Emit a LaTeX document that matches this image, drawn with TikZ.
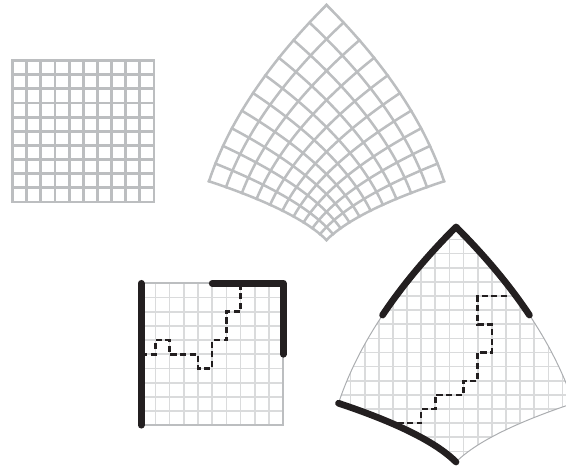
\documentclass[tikz,border=0pt]{standalone}
\definecolor{gridgray}{HTML}{BCBEC0}
\definecolor{finegray}{HTML}{DADBDC}
\definecolor{edgegray}{HTML}{ABADB0}
\definecolor{inkblack}{HTML}{231F20}
\newcommand{\warpX}[3]{#1+14.69*((#2)*(#2)-(#3)*(#3))}
\newcommand{\warpY}[3]{#1-14.69*(2*(#2)*(#3)-2)}
\tikzset{
  coarse/.style={draw=gridgray,line width=1.9pt,line cap=rect},
  flatcoarse/.style={draw=gridgray,line width=2.1pt,line cap=rect},
  fine/.style={draw=finegray,line width=1.25pt},
  rim/.style={draw=gridgray,line width=1.5pt,line cap=rect},
  thinrim/.style={draw=edgegray,line width=0.75pt},
  heavy/.style={draw=inkblack,line width=5pt,line cap=round,line join=round},
  route/.style={draw=inkblack,line width=1.9pt,dash pattern=on 4.6pt off 2.6pt},
  curve/.style={domain=1:3,samples=25,smooth,variable=\t}
}
\begin{document}
\begin{tikzpicture}[x=0.75pt,y=-0.75pt]
\useasboundingbox (0,0) rectangle (566,467);
\clip (0,0) rectangle (566,467);
% flat coarse grid
\foreach \k in {0,...,10}{
  \draw[flatcoarse] ({12.5+14.15*\k},60.5) -- ({12.5+14.15*\k},202);
  \draw[flatcoarse] (12.5,{60.5+14.15*\k}) -- (154,{60.5+14.15*\k});
}
% warped coarse grid
\foreach \k in {0,...,10}{
  \pgfmathsetmacro{\a}{1+0.2*\k}
  \draw[coarse] plot[curve] ({\warpX{326.5}{\a}{\t}},{\warpY{240}{\a}{\t}});
  \draw[coarse] plot[curve] ({\warpX{326.5}{\t}{\a}},{\warpY{240}{\t}{\a}});
}
% flat fine grid
\foreach \k in {1,...,9}{
  \draw[fine] ({141.2+14.2*\k},283.3) -- ({141.2+14.2*\k},425.2);
  \draw[fine] (141.2,{283.3+14.2*\k}) -- (283.2,{283.3+14.2*\k});
}
\draw[rim] (141.2,283.3) -- (283.2,283.3) -- (283.2,425.2) -- (141.2,425.2);
% warped outline filled with a straight fine grid
\begin{scope}
\clip plot[curve] ({\warpX{456}{1}{\t}},{\warpY{462}{1}{\t}})
  -- plot[curve] ({\warpX{456}{\t}{3}},{\warpY{462}{\t}{3}})
  -- plot[curve] ({\warpX{456}{3}{4-\t}},{\warpY{462}{3}{4-\t}})
  -- plot[curve] ({\warpX{456}{4-\t}{1}},{\warpY{462}{4-\t}{1}}) -- cycle;
\foreach \k in {-9,...,7}{
  \draw[fine] ({477.7+14.13*\k},220) -- ({477.7+14.13*\k},470);
}
\foreach \k in {-5,...,12}{
  \draw[fine] (330,{296+14.13*\k}) -- (580,{296+14.13*\k});
}
\end{scope}
\draw[thinrim] plot[curve] ({\warpX{456}{\t}{1}},{\warpY{462}{\t}{1}});
\draw[thinrim] plot[domain=1:2,samples=15,smooth,variable=\t] ({\warpX{456}{\t}{3}},{\warpY{462}{\t}{3}});
\draw[thinrim] plot[domain=1:2,samples=15,smooth,variable=\t] ({\warpX{456}{3}{\t}},{\warpY{462}{3}{\t}});
% routes
\draw[route] (141.2,354.3) -- (155.4,354.3) -- (155.4,340.1) -- (169.6,340.1) -- (169.6,354.3)
  -- (198,354.3) -- (198,368.5) -- (212.2,368.5) -- (212.2,340.1) -- (226.4,340.1)
  -- (226.4,311.7) -- (240.6,311.7) -- (240.6,283.3);
\draw[route] (507,296) -- (477.7,296) -- (477.7,324.3) -- (492,324.3) -- (492,352.5)
  -- (477.7,352.5) -- (477.7,380.8) -- (463.6,380.8) -- (463.6,395) -- (435.3,395)
  -- (435.3,409.1) -- (421.2,409.1) -- (421.2,423.2) -- (395,423.2);
% heavy edges
\draw[heavy] (141.2,283.3) -- (141.2,425.2);
\draw[heavy] (212.2,283.3) -- (283.2,283.3) -- (283.2,354.3);
\draw[heavy] plot[curve] ({\warpX{456}{1}{\t}},{\warpY{462}{1}{\t}});
\draw[heavy] plot[domain=2:3,samples=15,smooth,variable=\t] ({\warpX{456}{\t}{3}},{\warpY{462}{\t}{3}})
  -- plot[domain=3:2,samples=15,smooth,variable=\t] ({\warpX{456}{3}{\t}},{\warpY{462}{3}{\t}});
\end{tikzpicture}
\end{document}
